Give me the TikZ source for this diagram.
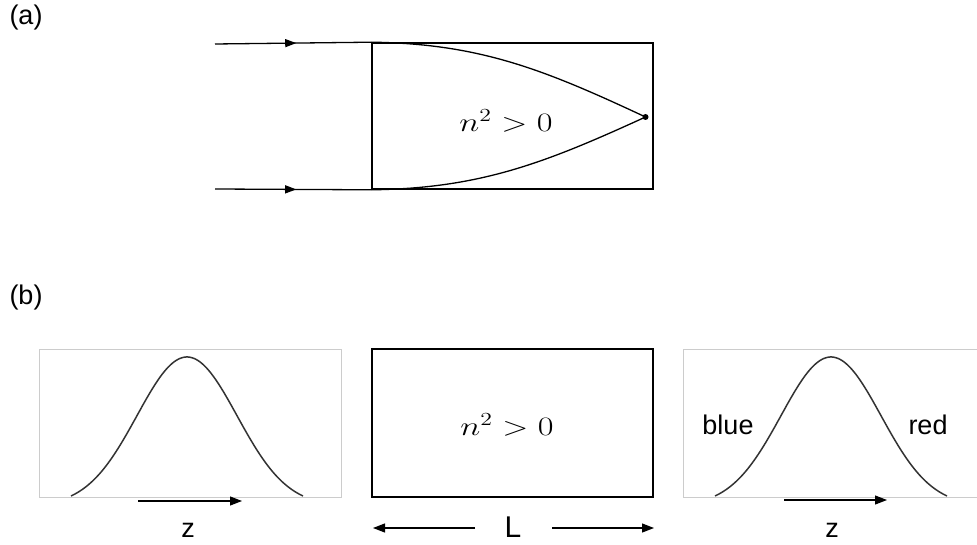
\documentclass[tikz,border=0pt]{standalone}
\usepackage[no-math]{fontspec}
\newfontfamily\arial{Liberation Sans}
\usetikzlibrary{arrows.meta,decorations.markings}
\tikzset{
  lbl/.style={font=\arial\fontsize{27}{30}\selectfont, inner sep=0pt},
  mathlbl/.style={inner sep=0pt},
  mainbox/.style={draw=black, line width=1.6pt, minimum width=281pt, minimum height=146pt, inner sep=0pt},
  panel/.style={draw=black!20, line width=1pt},
  ray/.style={line width=1.3pt, black},
  midarrow/.style={postaction={decorate}, decoration={markings, mark=at position #1 with {\arrow{Triangle[length=11pt,width=8pt]}}}},
  dimarrow/.style={line width=1.2pt, -{Triangle[length=12pt,width=9pt]}},
  gauss/.style={line width=1.5pt, black!80, smooth},
}
\newcommand{\nsq}{\scalebox{1.65}[1.28]{\fontsize{20.74}{25}\selectfont$n^2>0$}}
\begin{document}
\begin{tikzpicture}[x=1pt,y=-1pt]
\useasboundingbox (0,0) rectangle (977,545);
\fill[white] (0,0) rectangle (977,545);

% labels
\node[lbl] (la) at (26,18) {(a)};
\node[lbl] (lb) at (26,298) {(b)};

% (a) box
\node[mainbox] (boxa) at (512.5,116) {};
\node[mathlbl] (ta) at (506,121) {\nsq};
\node[circle, fill=black, inner sep=0pt, minimum size=6pt] (focus) at (645.5,117) {};
\coordinate (in1) at (215,44);
\coordinate (in2) at (215,189);
\draw[ray, midarrow=0.52] (in1) -- (boxa.north west);
\draw[ray, midarrow=0.52] (in2) -- (boxa.south west);
\draw[ray] (boxa.north west) .. controls (480,43.5) and (545,70) .. (focus.center);
\draw[ray] (boxa.south west) .. controls (480,188.5) and (545,163) .. (focus.center);

% (b) middle box
\node[mainbox, minimum height=148pt] (boxb) at (512.5,423) {};
\node[mathlbl] (tb) at (507,425) {\nsq};
\node[lbl, font=\arial\fontsize{30}{32}\selectfont] (L) at (513,527) {L};
\coordinate (Ll) at (475,528);
\coordinate (Ltipl) at (373,528);
\coordinate (Lr) at (552,528);
\coordinate (Ltipr) at (654,528);
\draw[dimarrow] (Ll) -- (Ltipl);
\draw[dimarrow] (Lr) -- (Ltipr);

% (b) left panel
\draw[panel] (39,349) rectangle (341,497);
\draw[gauss] plot[domain=-116:116, samples=120] ({187+\x}, {496 - 139*(exp(-\x*\x/5000)-0.0678)/0.9322});
\coordinate (z1s) at (138,501);
\coordinate (z1e) at (242,501);
\draw[dimarrow, line width=1.1pt] (z1s) -- (z1e);
\node[lbl] (z1) at (188,530) {z};

% (b) right panel
\draw[panel] (977,349) -- (683,349) -- (683,497) -- (977,497);
\draw[gauss] plot[domain=-116:116, samples=120] ({831+\x}, {496 - 139*(exp(-\x*\x/5000)-0.0678)/0.9322});
\coordinate (z2s) at (784,500);
\coordinate (z2e) at (887,500);
\draw[dimarrow, line width=1.1pt] (z2s) -- (z2e);
\node[lbl] (z2) at (832,530) {z};
\node[lbl] (blue) at (728,425) {blue};
\node[lbl] (red) at (928,425) {red};
\end{tikzpicture}
\end{document}
